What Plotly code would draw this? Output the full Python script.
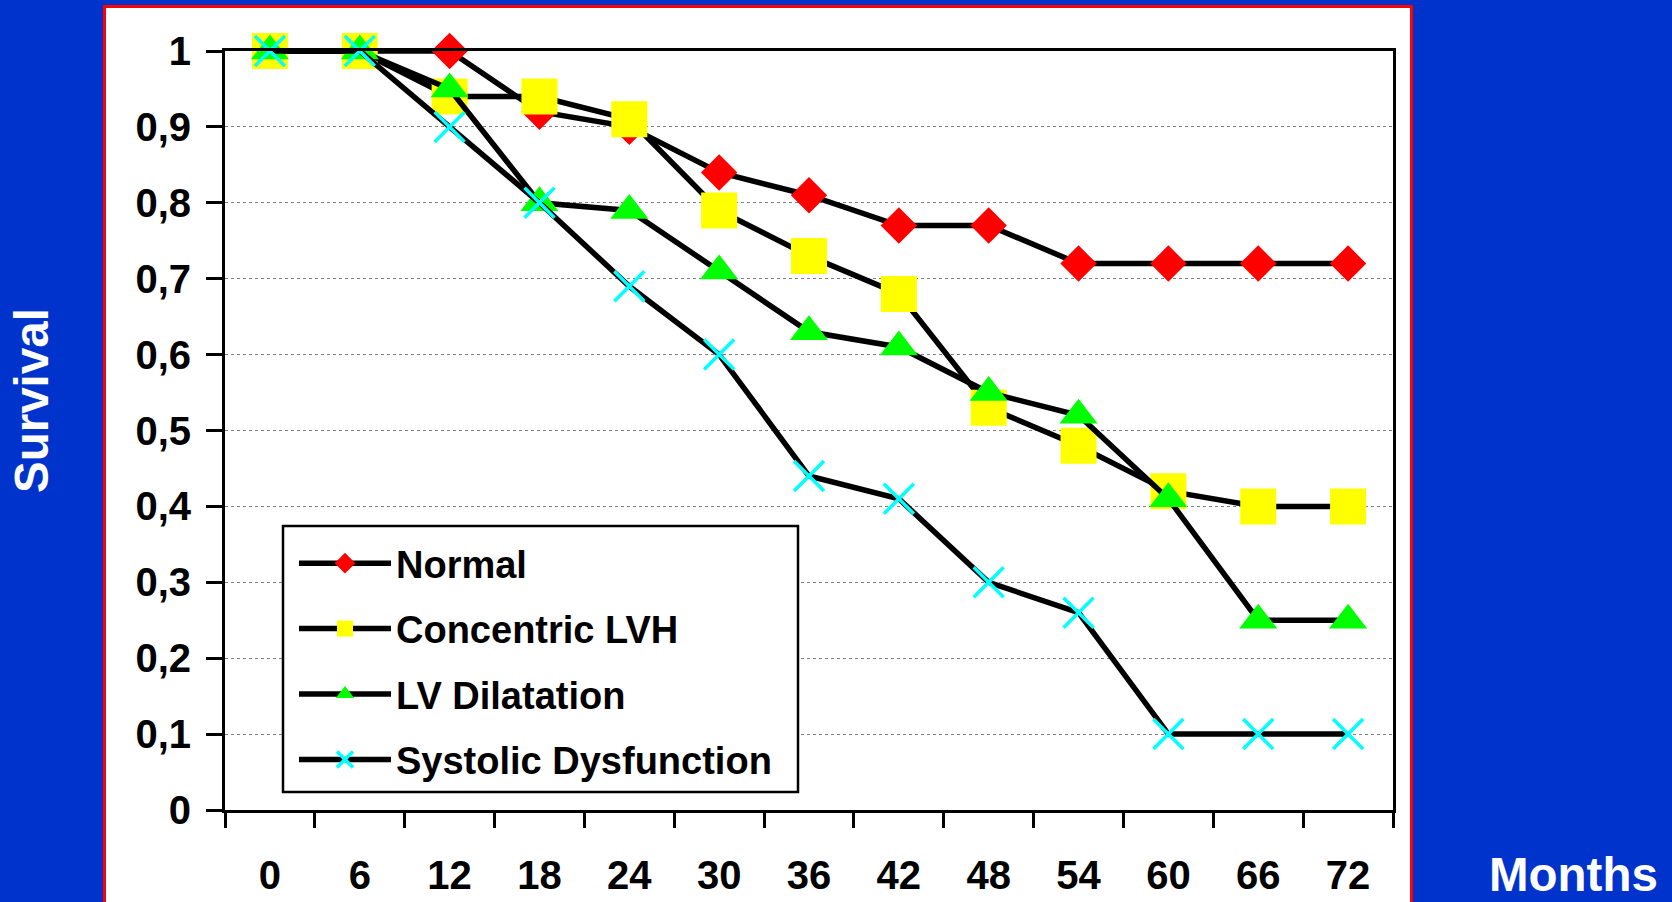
import plotly.graph_objects as go

# Survival by LV geometry group, follow-up in months
months = ["0", "6", "12", "18", "24", "30", "36", "42", "48", "54", "60", "66", "72"]
normal = [1.00, 1.00, 1.00, 0.92, 0.90, 0.84, 0.81, 0.77, 0.77, 0.72, 0.72, 0.72, 0.72]
concentric_lvh = [1.00, 1.00, 0.94, 0.94, 0.91, 0.79, 0.73, 0.68, 0.53, 0.48, 0.42, 0.40, 0.40]
lv_dilatation = [1.00, 1.00, 0.95, 0.80, 0.79, 0.71, 0.63, 0.61, 0.55, 0.52, 0.41, 0.25, 0.25]
systolic_dysfunction = [1.00, 1.00, 0.90, 0.80, 0.69, 0.60, 0.44, 0.41, 0.30, 0.26, 0.10, 0.10, 0.10]

y_ticks = [0, 0.1, 0.2, 0.3, 0.4, 0.5, 0.6, 0.7, 0.8, 0.9, 1]
y_tick_labels = ["0", "0,1", "0,2", "0,3", "0,4", "0,5", "0,6", "0,7", "0,8", "0,9", "1"]

W, H = 1672, 902
ML, MR, MT, MB = 225, 279, 51, 92
PW, PH = W - ML - MR, H - MT - MB

FONT = "Liberation Sans, Arial, sans-serif"
BLUE = "#0033CC"


def px_x(x):
    return (x - ML) / PW


def px_y(y):
    return (H - MB - y) / PH


series = [
    ("Normal", normal, dict(symbol="diamond", size=28, color="#FF0000")),
    ("Concentric LVH", concentric_lvh, dict(symbol="square", size=36, color="#FFFF00")),
    ("LV Dilatation", lv_dilatation, dict(symbol="triangle-up", size=33, color="#00FF00")),
    ("Systolic Dysfunction", systolic_dysfunction,
     dict(symbol="x-thin", size=30, color="#00FFFF", line=dict(color="#00FFFF", width=3.5))),
]

fig = go.Figure()
for name, values, marker in series:
    fig.add_trace(go.Scatter(
        x=months, y=values, name=name, legendgroup=name,
        mode="lines+markers",
        line=dict(color="black", width=5.5),
        marker=marker,
        cliponaxis=False,
    ))

fig.update_layout(
    width=W, height=H,
    margin=dict(l=ML, r=MR, t=MT, b=MB, autoexpand=False),
    paper_bgcolor=BLUE,
    plot_bgcolor="white",
    font=dict(family=FONT, color="black"),
    showlegend=True,
    legend=dict(
        x=px_x(294), y=px_y(532), xanchor="left", yanchor="top",
        bgcolor="rgba(0,0,0,0)", borderwidth=0,
        font=dict(family=FONT, size=38, weight=700, color="black"),
        itemwidth=92, tracegroupgap=13,
    ),
    shapes=[
        # white panel with red frame
        dict(type="rect", xref="paper", yref="paper",
             x0=px_x(104.5), x1=px_x(1411.5), y0=px_y(H + 20), y1=px_y(6.5),
             line=dict(color="#FF0000", width=3), fillcolor="white", layer="below"),
        # legend box (drawn over the grid, under the legend entries)
        dict(type="rect", xref="paper", yref="paper",
             x0=px_x(283), x1=px_x(798), y0=px_y(792), y1=px_y(526),
             line=dict(color="black", width=2.5), fillcolor="white", layer="above"),
    ],
    annotations=[
        dict(text="Survival", xref="paper", yref="paper", x=px_x(31), y=px_y(401),
             xanchor="center", yanchor="middle", textangle=-90, showarrow=False,
             font=dict(family=FONT, size=47.5, weight=700, color="white")),
        dict(text="Months", xref="paper", yref="paper", x=px_x(1573), y=px_y(874),
             xanchor="center", yanchor="middle", showarrow=False,
             font=dict(family=FONT, size=47.5, weight=700, color="white")),
    ],
)

fig.update_xaxes(
    type="category", range=[-0.5, len(months) - 0.5], automargin=False,
    tickson="boundaries", ticks="outside", ticklen=15, tickwidth=3, tickcolor="black",
    showline=True, linewidth=3, linecolor="black", mirror=True,
    showgrid=False, zeroline=False,
    tickfont=dict(family=FONT, size=40, weight=700, color="black"),
    ticklabelstandoff=28,
)
fig.update_yaxes(
    range=[0, 1], tickvals=y_ticks, ticktext=y_tick_labels, automargin=False,
    ticks="outside", ticklen=16, tickwidth=3, tickcolor="black",
    showline=True, linewidth=3, linecolor="black", mirror=True,
    showgrid=True, gridcolor="#808080", gridwidth=1, griddash="dot",
    zeroline=False,
    tickfont=dict(family=FONT, size=40, weight=700, color="black"),
    ticklabelstandoff=7,
)

fig.write_html("out.html")
